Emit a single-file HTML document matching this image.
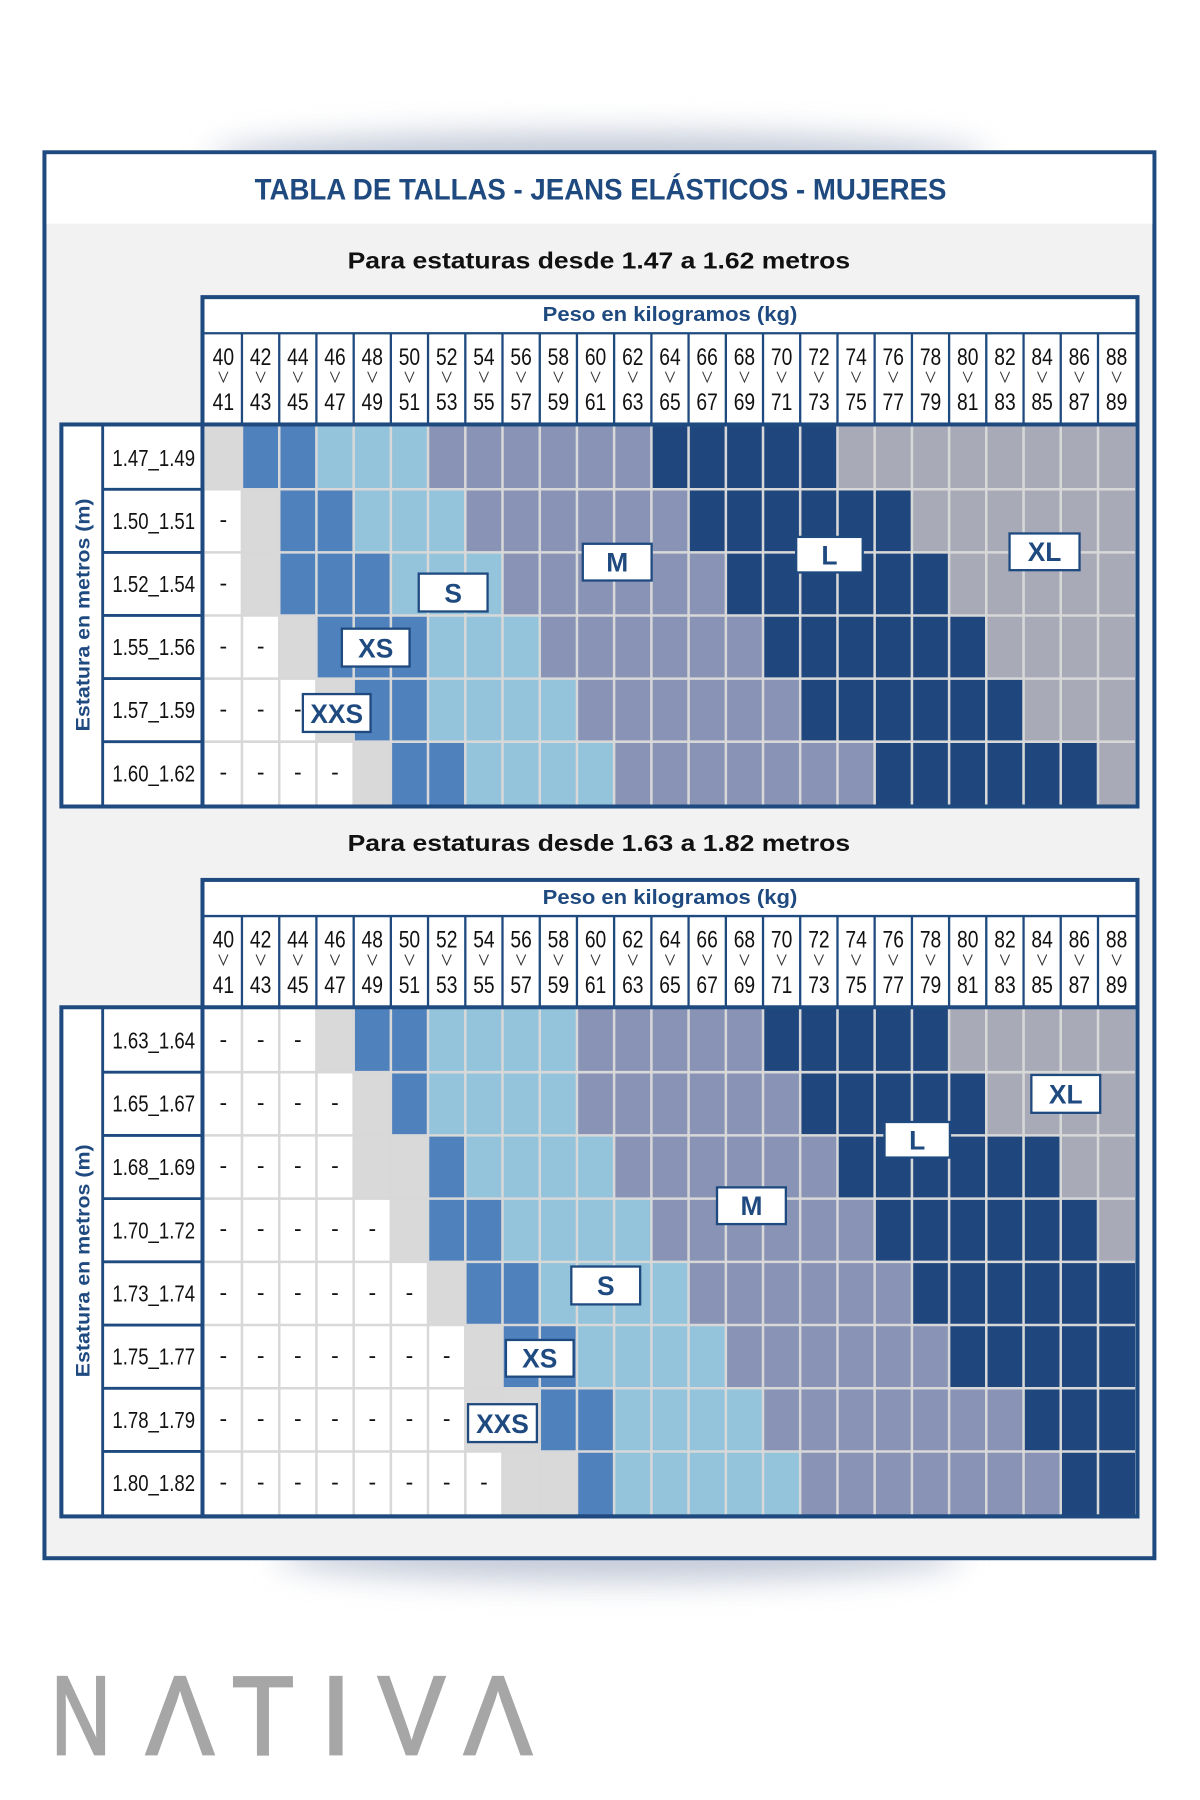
<!DOCTYPE html>
<html><head><meta charset="utf-8"><style>html,body{margin:0;padding:0;background:#fff}svg{display:block}</style></head>
<body>
<svg xmlns="http://www.w3.org/2000/svg" width="1200" height="1800" viewBox="0 0 1046 1569" font-family="Liberation Sans, DejaVu Sans, sans-serif">
<defs>
<filter id="bl" x="-50%" y="-200%" width="200%" height="500%"><feGaussianBlur stdDeviation="14"/></filter>
</defs>
<rect width="1046" height="1569" fill="#fff"/>
<ellipse cx="522" cy="138" rx="340" ry="22" fill="#8f9cb6" opacity="0.55" filter="url(#bl)"/>
<ellipse cx="540" cy="1356" rx="300" ry="22" fill="#8f9cb6" opacity="0.55" filter="url(#bl)"/>
<rect x="38.75" y="132.75" width="967.5" height="1225.5" fill="#f2f2f2" stroke="#1f4a80" stroke-width="3.5"/>
<rect x="40.5" y="134.5" width="964" height="60.5" fill="#fff"/>
<text x="222" y="174" font-size="26" font-weight="bold" fill="#1f4a80" textLength="603" lengthAdjust="spacingAndGlyphs">TABLA DE TALLAS - JEANS ELÁSTICOS - MUJERES</text>

<text x="303" y="234" font-size="20.5" font-weight="bold" fill="#111" textLength="438" lengthAdjust="spacingAndGlyphs">Para estaturas desde 1.47 a 1.62 metros</text>
<rect x="176.5" y="259" width="815" height="444" fill="#fff"/>
<rect x="53.5" y="370" width="123" height="333" fill="#fff"/>
<text x="584" y="280" font-size="17.5" font-weight="bold" fill="#1f4a80" text-anchor="middle" textLength="222" lengthAdjust="spacingAndGlyphs">Peso en kilogramos (kg)</text>
<g fill="#111" font-size="21" text-anchor="middle" transform="scale(0.8,1)">
<text y="318"><tspan x="243.4">40</tspan><tspan x="284.0">42</tspan><tspan x="324.5">44</tspan><tspan x="365.0">46</tspan><tspan x="405.6">48</tspan><tspan x="446.1">50</tspan><tspan x="486.8">52</tspan><tspan x="527.3">54</tspan><tspan x="567.8">56</tspan><tspan x="608.4">58</tspan><tspan x="648.9">60</tspan><tspan x="689.5">62</tspan><tspan x="730.0">64</tspan><tspan x="770.5">66</tspan><tspan x="811.1">68</tspan><tspan x="851.6">70</tspan><tspan x="892.3">72</tspan><tspan x="932.8">74</tspan><tspan x="973.3">76</tspan><tspan x="1013.9">78</tspan><tspan x="1054.4">80</tspan><tspan x="1095.0">82</tspan><tspan x="1135.5">84</tspan><tspan x="1176.0">86</tspan><tspan x="1216.6">88</tspan></text>
<text y="357.5"><tspan x="243.4">41</tspan><tspan x="284.0">43</tspan><tspan x="324.5">45</tspan><tspan x="365.0">47</tspan><tspan x="405.6">49</tspan><tspan x="446.1">51</tspan><tspan x="486.8">53</tspan><tspan x="527.3">55</tspan><tspan x="567.8">57</tspan><tspan x="608.4">59</tspan><tspan x="648.9">61</tspan><tspan x="689.5">63</tspan><tspan x="730.0">65</tspan><tspan x="770.5">67</tspan><tspan x="811.1">69</tspan><tspan x="851.6">71</tspan><tspan x="892.3">73</tspan><tspan x="932.8">75</tspan><tspan x="973.3">77</tspan><tspan x="1013.9">79</tspan><tspan x="1054.4">81</tspan><tspan x="1095.0">83</tspan><tspan x="1135.5">85</tspan><tspan x="1176.0">87</tspan><tspan x="1216.6">89</tspan></text>
</g>
<path fill="none" stroke="#333" stroke-width="0.9" d="M190.7 324l4 9 4-9M223.2 324l4 9 4-9M255.6 324l4 9 4-9M288.0 324l4 9 4-9M320.5 324l4 9 4-9M352.9 324l4 9 4-9M385.4 324l4 9 4-9M417.8 324l4 9 4-9M450.2 324l4 9 4-9M482.7 324l4 9 4-9M515.1 324l4 9 4-9M547.6 324l4 9 4-9M580.0 324l4 9 4-9M612.4 324l4 9 4-9M644.9 324l4 9 4-9M677.3 324l4 9 4-9M709.8 324l4 9 4-9M742.2 324l4 9 4-9M774.6 324l4 9 4-9M807.1 324l4 9 4-9M839.5 324l4 9 4-9M872.0 324l4 9 4-9M904.4 324l4 9 4-9M936.8 324l4 9 4-9M969.3 324l4 9 4-9"/>
<path stroke="#1f4a80" stroke-width="2" d="M210.9 290V370M243.4 290V370M275.8 290V370M308.3 290V370M340.7 290V370M373.1 290V370M405.6 290V370M438.0 290V370M470.5 290V370M502.9 290V370M535.3 290V370M567.8 290V370M600.2 290V370M632.7 290V370M665.1 290V370M697.5 290V370M730.0 290V370M762.4 290V370M794.9 290V370M827.3 290V370M859.7 290V370M892.2 290V370M924.6 290V370M957.1 290V370M176.5 290.5H991.5"/>
<g>
<rect x="178.5" y="371.5" width="32.44" height="55" fill="#d9d9d9"/><rect x="210.9" y="371.5" width="64.88" height="55" fill="#4f81bd"/><rect x="275.8" y="371.5" width="97.32" height="55" fill="#93c4db"/><rect x="373.1" y="371.5" width="194.64" height="55" fill="#8893b5"/><rect x="567.8" y="371.5" width="162.2" height="55" fill="#1f477e"/><rect x="730.0" y="371.5" width="259.52" height="55" fill="#a8abb7"/>
<rect x="210.9" y="426.5" width="32.44" height="55" fill="#d9d9d9"/><rect x="243.4" y="426.5" width="64.88" height="55" fill="#4f81bd"/><rect x="308.3" y="426.5" width="97.32" height="55" fill="#93c4db"/><rect x="405.6" y="426.5" width="194.64" height="55" fill="#8893b5"/><rect x="600.2" y="426.5" width="194.64" height="55" fill="#1f477e"/><rect x="794.9" y="426.5" width="194.64" height="55" fill="#a8abb7"/>
<rect x="210.9" y="481.5" width="32.44" height="55" fill="#d9d9d9"/><rect x="243.4" y="481.5" width="97.32" height="55" fill="#4f81bd"/><rect x="340.7" y="481.5" width="97.32" height="55" fill="#93c4db"/><rect x="438.0" y="481.5" width="194.64" height="55" fill="#8893b5"/><rect x="632.7" y="481.5" width="194.64" height="55" fill="#1f477e"/><rect x="827.3" y="481.5" width="162.2" height="55" fill="#a8abb7"/>
<rect x="243.4" y="536.5" width="32.44" height="55" fill="#d9d9d9"/><rect x="275.8" y="536.5" width="97.32" height="55" fill="#4f81bd"/><rect x="373.1" y="536.5" width="97.32" height="55" fill="#93c4db"/><rect x="470.5" y="536.5" width="194.64" height="55" fill="#8893b5"/><rect x="665.1" y="536.5" width="194.64" height="55" fill="#1f477e"/><rect x="859.7" y="536.5" width="129.76" height="55" fill="#a8abb7"/>
<rect x="275.8" y="591.5" width="32.44" height="55" fill="#d9d9d9"/><rect x="308.3" y="591.5" width="64.88" height="55" fill="#4f81bd"/><rect x="373.1" y="591.5" width="129.76" height="55" fill="#93c4db"/><rect x="502.9" y="591.5" width="194.64" height="55" fill="#8893b5"/><rect x="697.5" y="591.5" width="194.64" height="55" fill="#1f477e"/><rect x="892.2" y="591.5" width="97.32" height="55" fill="#a8abb7"/>
<rect x="308.3" y="646.5" width="32.44" height="55" fill="#d9d9d9"/><rect x="340.7" y="646.5" width="64.88" height="55" fill="#4f81bd"/><rect x="405.6" y="646.5" width="129.76" height="55" fill="#93c4db"/><rect x="535.3" y="646.5" width="227.08" height="55" fill="#8893b5"/><rect x="762.4" y="646.5" width="194.64" height="55" fill="#1f477e"/><rect x="957.1" y="646.5" width="32.44" height="55" fill="#a8abb7"/>
</g>
<path stroke="#d8d8d8" stroke-width="2.2" d="M210.9 371.5V701.5M243.4 371.5V701.5M275.8 371.5V701.5M308.3 371.5V701.5M340.7 371.5V701.5M373.1 371.5V701.5M405.6 371.5V701.5M438.0 371.5V701.5M470.5 371.5V701.5M502.9 371.5V701.5M535.3 371.5V701.5M567.8 371.5V701.5M600.2 371.5V701.5M632.7 371.5V701.5M665.1 371.5V701.5M697.5 371.5V701.5M730.0 371.5V701.5M762.4 371.5V701.5M794.9 371.5V701.5M827.3 371.5V701.5M859.7 371.5V701.5M892.2 371.5V701.5M924.6 371.5V701.5M957.1 371.5V701.5M178.5 426.5H989.5M178.5 481.5H989.5M178.5 536.5H989.5M178.5 591.5H989.5M178.5 646.5H989.5"/>
<path stroke="#1f4a80" stroke-width="2.5" d="M89.5 370V703M89.5 426.5H176.5M89.5 481.5H176.5M89.5 536.5H176.5M89.5 591.5H176.5M89.5 646.5H176.5"/>
<rect x="176.5" y="259" width="815" height="444" fill="none" stroke="#1f4a80" stroke-width="3.5"/>
<rect x="53.5" y="370" width="938" height="333" fill="none" stroke="#1f4a80" stroke-width="3.5"/>
<text fill="#111" font-size="20" text-anchor="middle"><tspan x="194.7" y="460">-</tspan><tspan x="194.7" y="515">-</tspan><tspan x="194.7 227.2" y="570">--</tspan><tspan x="194.7 227.2 259.6" y="625">---</tspan><tspan x="194.7 227.2 259.6 292.0" y="680">----</tspan></text>
<g fill="#111" font-size="20" text-anchor="middle">
<text x="134" y="406" textLength="72" lengthAdjust="spacingAndGlyphs">1.47_1.49</text>
<text x="134" y="461" textLength="72" lengthAdjust="spacingAndGlyphs">1.50_1.51</text>
<text x="134" y="516" textLength="72" lengthAdjust="spacingAndGlyphs">1.52_1.54</text>
<text x="134" y="571" textLength="72" lengthAdjust="spacingAndGlyphs">1.55_1.56</text>
<text x="134" y="626" textLength="72" lengthAdjust="spacingAndGlyphs">1.57_1.59</text>
<text x="134" y="681" textLength="72" lengthAdjust="spacingAndGlyphs">1.60_1.62</text>
</g>
<text transform="translate(78,536) rotate(-90)" font-size="17" font-weight="bold" fill="#1f4a80" text-anchor="middle" textLength="203" lengthAdjust="spacingAndGlyphs">Estatura en metros (m)</text>
<g fill="#fff" stroke="#1f4a80" stroke-width="2">
<rect x="365" y="500" width="60" height="33"/><rect x="508" y="474" width="60" height="32"/><rect x="694" y="468" width="58" height="31"/><rect x="880" y="465" width="61" height="32"/><rect x="298" y="548" width="59" height="33"/><rect x="264" y="605" width="59" height="33"/>
</g>
<g fill="#1f4a80" font-size="23" font-weight="bold" text-anchor="middle">
<text x="395" y="525">S</text><text x="538" y="498">M</text><text x="723" y="492">L</text><text x="910.5" y="489">XL</text><text x="327.5" y="573">XS</text><text x="293.5" y="630">XXS</text>
</g>

<text x="303" y="742" font-size="20.5" font-weight="bold" fill="#111" textLength="438" lengthAdjust="spacingAndGlyphs">Para estaturas desde 1.63 a 1.82 metros</text>
<rect x="176.5" y="767" width="815" height="554.8" fill="#fff"/>
<rect x="53.5" y="878" width="123" height="443.8" fill="#fff"/>
<text x="584" y="788" font-size="17.5" font-weight="bold" fill="#1f4a80" text-anchor="middle" textLength="222" lengthAdjust="spacingAndGlyphs">Peso en kilogramos (kg)</text>
<g fill="#111" font-size="21" text-anchor="middle" transform="scale(0.8,1)">
<text y="826"><tspan x="243.4">40</tspan><tspan x="284.0">42</tspan><tspan x="324.5">44</tspan><tspan x="365.0">46</tspan><tspan x="405.6">48</tspan><tspan x="446.1">50</tspan><tspan x="486.8">52</tspan><tspan x="527.3">54</tspan><tspan x="567.8">56</tspan><tspan x="608.4">58</tspan><tspan x="648.9">60</tspan><tspan x="689.5">62</tspan><tspan x="730.0">64</tspan><tspan x="770.5">66</tspan><tspan x="811.1">68</tspan><tspan x="851.6">70</tspan><tspan x="892.3">72</tspan><tspan x="932.8">74</tspan><tspan x="973.3">76</tspan><tspan x="1013.9">78</tspan><tspan x="1054.4">80</tspan><tspan x="1095.0">82</tspan><tspan x="1135.5">84</tspan><tspan x="1176.0">86</tspan><tspan x="1216.6">88</tspan></text>
<text y="865.5"><tspan x="243.4">41</tspan><tspan x="284.0">43</tspan><tspan x="324.5">45</tspan><tspan x="365.0">47</tspan><tspan x="405.6">49</tspan><tspan x="446.1">51</tspan><tspan x="486.8">53</tspan><tspan x="527.3">55</tspan><tspan x="567.8">57</tspan><tspan x="608.4">59</tspan><tspan x="648.9">61</tspan><tspan x="689.5">63</tspan><tspan x="730.0">65</tspan><tspan x="770.5">67</tspan><tspan x="811.1">69</tspan><tspan x="851.6">71</tspan><tspan x="892.3">73</tspan><tspan x="932.8">75</tspan><tspan x="973.3">77</tspan><tspan x="1013.9">79</tspan><tspan x="1054.4">81</tspan><tspan x="1095.0">83</tspan><tspan x="1135.5">85</tspan><tspan x="1176.0">87</tspan><tspan x="1216.6">89</tspan></text>
</g>
<path fill="none" stroke="#333" stroke-width="0.9" d="M190.7 832l4 9 4-9M223.2 832l4 9 4-9M255.6 832l4 9 4-9M288.0 832l4 9 4-9M320.5 832l4 9 4-9M352.9 832l4 9 4-9M385.4 832l4 9 4-9M417.8 832l4 9 4-9M450.2 832l4 9 4-9M482.7 832l4 9 4-9M515.1 832l4 9 4-9M547.6 832l4 9 4-9M580.0 832l4 9 4-9M612.4 832l4 9 4-9M644.9 832l4 9 4-9M677.3 832l4 9 4-9M709.8 832l4 9 4-9M742.2 832l4 9 4-9M774.6 832l4 9 4-9M807.1 832l4 9 4-9M839.5 832l4 9 4-9M872.0 832l4 9 4-9M904.4 832l4 9 4-9M936.8 832l4 9 4-9M969.3 832l4 9 4-9"/>
<path stroke="#1f4a80" stroke-width="2" d="M210.9 798V878M243.4 798V878M275.8 798V878M308.3 798V878M340.7 798V878M373.1 798V878M405.6 798V878M438.0 798V878M470.5 798V878M502.9 798V878M535.3 798V878M567.8 798V878M600.2 798V878M632.7 798V878M665.1 798V878M697.5 798V878M730.0 798V878M762.4 798V878M794.9 798V878M827.3 798V878M859.7 798V878M892.2 798V878M924.6 798V878M957.1 798V878M176.5 798.5H991.5"/>
<g>
<rect x="275.8" y="879.5" width="32.44" height="55.1" fill="#d9d9d9"/><rect x="308.3" y="879.5" width="64.88" height="55.1" fill="#4f81bd"/><rect x="373.1" y="879.5" width="129.76" height="55.1" fill="#93c4db"/><rect x="502.9" y="879.5" width="162.2" height="55.1" fill="#8893b5"/><rect x="665.1" y="879.5" width="162.2" height="55.1" fill="#1f477e"/><rect x="827.3" y="879.5" width="162.2" height="55.1" fill="#a8abb7"/>
<rect x="308.3" y="934.6" width="32.44" height="55.1" fill="#d9d9d9"/><rect x="340.7" y="934.6" width="32.44" height="55.1" fill="#4f81bd"/><rect x="373.1" y="934.6" width="129.76" height="55.1" fill="#93c4db"/><rect x="502.9" y="934.6" width="194.64" height="55.1" fill="#8893b5"/><rect x="697.5" y="934.6" width="162.2" height="55.1" fill="#1f477e"/><rect x="859.7" y="934.6" width="129.76" height="55.1" fill="#a8abb7"/>
<rect x="308.3" y="989.7" width="64.88" height="55.1" fill="#d9d9d9"/><rect x="373.1" y="989.7" width="32.44" height="55.1" fill="#4f81bd"/><rect x="405.6" y="989.7" width="129.76" height="55.1" fill="#93c4db"/><rect x="535.3" y="989.7" width="194.64" height="55.1" fill="#8893b5"/><rect x="730.0" y="989.7" width="194.64" height="55.1" fill="#1f477e"/><rect x="924.6" y="989.7" width="64.88" height="55.1" fill="#a8abb7"/>
<rect x="340.7" y="1044.8" width="32.44" height="55.1" fill="#d9d9d9"/><rect x="373.1" y="1044.8" width="64.88" height="55.1" fill="#4f81bd"/><rect x="438.0" y="1044.8" width="129.76" height="55.1" fill="#93c4db"/><rect x="567.8" y="1044.8" width="194.64" height="55.1" fill="#8893b5"/><rect x="762.4" y="1044.8" width="194.64" height="55.1" fill="#1f477e"/><rect x="957.1" y="1044.8" width="32.44" height="55.1" fill="#a8abb7"/>
<rect x="373.1" y="1099.9" width="32.44" height="55.1" fill="#d9d9d9"/><rect x="405.6" y="1099.9" width="64.88" height="55.1" fill="#4f81bd"/><rect x="470.5" y="1099.9" width="129.76" height="55.1" fill="#93c4db"/><rect x="600.2" y="1099.9" width="194.64" height="55.1" fill="#8893b5"/><rect x="794.9" y="1099.9" width="194.64" height="55.1" fill="#1f477e"/>
<rect x="405.6" y="1155.0" width="32.44" height="55.1" fill="#d9d9d9"/><rect x="438.0" y="1155.0" width="64.88" height="55.1" fill="#4f81bd"/><rect x="502.9" y="1155.0" width="129.76" height="55.1" fill="#93c4db"/><rect x="632.7" y="1155.0" width="194.64" height="55.1" fill="#8893b5"/><rect x="827.3" y="1155.0" width="162.2" height="55.1" fill="#1f477e"/>
<rect x="405.6" y="1210.1" width="64.88" height="55.1" fill="#d9d9d9"/><rect x="470.5" y="1210.1" width="64.88" height="55.1" fill="#4f81bd"/><rect x="535.3" y="1210.1" width="129.76" height="55.1" fill="#93c4db"/><rect x="665.1" y="1210.1" width="227.08" height="55.1" fill="#8893b5"/><rect x="892.2" y="1210.1" width="97.32" height="55.1" fill="#1f477e"/>
<rect x="438.0" y="1265.2" width="64.88" height="55.1" fill="#d9d9d9"/><rect x="502.9" y="1265.2" width="32.44" height="55.1" fill="#4f81bd"/><rect x="535.3" y="1265.2" width="162.2" height="55.1" fill="#93c4db"/><rect x="697.5" y="1265.2" width="227.08" height="55.1" fill="#8893b5"/><rect x="924.6" y="1265.2" width="64.88" height="55.1" fill="#1f477e"/>
</g>
<path stroke="#d8d8d8" stroke-width="2.2" d="M210.9 879.5V1320.3M243.4 879.5V1320.3M275.8 879.5V1320.3M308.3 879.5V1320.3M340.7 879.5V1320.3M373.1 879.5V1320.3M405.6 879.5V1320.3M438.0 879.5V1320.3M470.5 879.5V1320.3M502.9 879.5V1320.3M535.3 879.5V1320.3M567.8 879.5V1320.3M600.2 879.5V1320.3M632.7 879.5V1320.3M665.1 879.5V1320.3M697.5 879.5V1320.3M730.0 879.5V1320.3M762.4 879.5V1320.3M794.9 879.5V1320.3M827.3 879.5V1320.3M859.7 879.5V1320.3M892.2 879.5V1320.3M924.6 879.5V1320.3M957.1 879.5V1320.3M178.5 934.6H989.5M178.5 989.7H989.5M178.5 1044.8H989.5M178.5 1099.9H989.5M178.5 1155.0H989.5M178.5 1210.1H989.5M178.5 1265.2H989.5"/>
<path stroke="#1f4a80" stroke-width="2.5" d="M89.5 878V1321.8M89.5 934.6H176.5M89.5 989.7H176.5M89.5 1044.8H176.5M89.5 1099.9H176.5M89.5 1155.0H176.5M89.5 1210.1H176.5M89.5 1265.2H176.5"/>
<rect x="176.5" y="767" width="815" height="554.8" fill="none" stroke="#1f4a80" stroke-width="3.5"/>
<rect x="53.5" y="878" width="938" height="443.8" fill="none" stroke="#1f4a80" stroke-width="3.5"/>
<text fill="#111" font-size="20" text-anchor="middle"><tspan x="194.7 227.2 259.6" y="913">---</tspan><tspan x="194.7 227.2 259.6 292.0" y="968">----</tspan><tspan x="194.7 227.2 259.6 292.0" y="1023">----</tspan><tspan x="194.7 227.2 259.6 292.0 324.5" y="1078">-----</tspan><tspan x="194.7 227.2 259.6 292.0 324.5 356.9" y="1133.5">------</tspan><tspan x="194.7 227.2 259.6 292.0 324.5 356.9 389.4" y="1188.5">-------</tspan><tspan x="194.7 227.2 259.6 292.0 324.5 356.9 389.4" y="1243.5">-------</tspan><tspan x="194.7 227.2 259.6 292.0 324.5 356.9 389.4 421.8" y="1298.8">--------</tspan></text>
<g fill="#111" font-size="20" text-anchor="middle">
<text x="134" y="914" textLength="72" lengthAdjust="spacingAndGlyphs">1.63_1.64</text>
<text x="134" y="969" textLength="72" lengthAdjust="spacingAndGlyphs">1.65_1.67</text>
<text x="134" y="1024.3" textLength="72" lengthAdjust="spacingAndGlyphs">1.68_1.69</text>
<text x="134" y="1079.4" textLength="72" lengthAdjust="spacingAndGlyphs">1.70_1.72</text>
<text x="134" y="1134.5" textLength="72" lengthAdjust="spacingAndGlyphs">1.73_1.74</text>
<text x="134" y="1189.6" textLength="72" lengthAdjust="spacingAndGlyphs">1.75_1.77</text>
<text x="134" y="1244.7" textLength="72" lengthAdjust="spacingAndGlyphs">1.78_1.79</text>
<text x="134" y="1299.8" textLength="72" lengthAdjust="spacingAndGlyphs">1.80_1.82</text>
</g>
<text transform="translate(78,1099) rotate(-90)" font-size="17" font-weight="bold" fill="#1f4a80" text-anchor="middle" textLength="203" lengthAdjust="spacingAndGlyphs">Estatura en metros (m)</text>
<g fill="#fff" stroke="#1f4a80" stroke-width="2">
<rect x="498" y="1104" width="60" height="33"/><rect x="625" y="1035" width="60" height="32"/><rect x="771" y="978" width="57" height="31"/><rect x="899" y="937" width="60" height="33"/><rect x="441" y="1168" width="59" height="32"/><rect x="408" y="1224" width="60" height="33"/>
</g>
<g fill="#1f4a80" font-size="23" font-weight="bold" text-anchor="middle">
<text x="528" y="1129">S</text><text x="655" y="1059">M</text><text x="799.5" y="1002">L</text><text x="929" y="962">XL</text><text x="470.5" y="1192">XS</text><text x="438" y="1249">XXS</text>
</g>

<g fill="#a6a6a6" stroke="#a6a6a6" stroke-width="2.5" font-size="97" text-anchor="middle">
<text x="70.6" y="1529" textLength="52" lengthAdjust="spacingAndGlyphs">N</text>
<text x="156.9" y="1529" textLength="59" lengthAdjust="spacingAndGlyphs">Λ</text>
<text x="229.2" y="1529" textLength="54" lengthAdjust="spacingAndGlyphs">T</text>
<text x="292.9" y="1529">I</text>
<text x="358.7" y="1529" textLength="58" lengthAdjust="spacingAndGlyphs">V</text>
<text x="434.1" y="1529" textLength="59" lengthAdjust="spacingAndGlyphs">Λ</text>
</g>
</svg>
</body></html>
